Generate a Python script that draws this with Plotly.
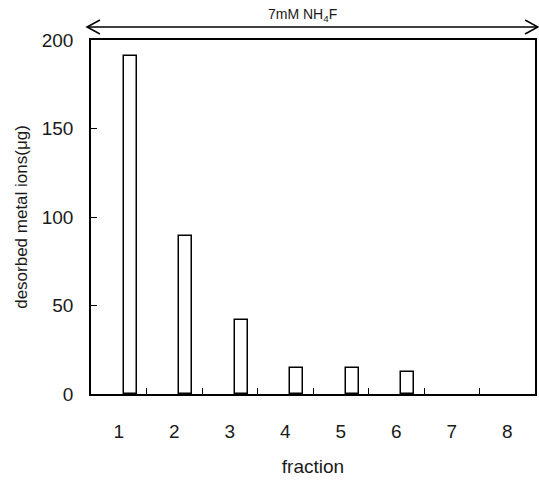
import plotly.graph_objects as go

fractions = [1, 2, 3, 4, 5, 6, 7, 8]
desorbed = [191, 89, 42, 14.5, 14.5, 12.5, 0, 0]
y_ticks = [0, 50, 100, 150, 200]

FONT = "Liberation Sans, Arial, sans-serif"
TXT = "#1a1a1a"

boundaries = [f + 0.5 for f in fractions[:-1]]

fig = go.Figure()
fig.add_trace(go.Bar(
    x=fractions, y=desorbed,
    width=0.23, offset=0.09,
    marker=dict(color="white",
                line=dict(color="black", width=[1.5 if v > 0 else 0 for v in desorbed])),
    showlegend=False,
))
# invisible trace so the boundary-tick axis is drawn
fig.add_trace(go.Scatter(x=boundaries, y=[0] * len(boundaries), xaxis="x2",
                         mode="markers", marker=dict(opacity=0), showlegend=False,
                         hoverinfo="skip"))

W, H = 446.0, 354.0
ay = (394 - 27) / H
xl = (87 - 91) / W
xr = (540 - 91) / W
hx = 13 / W
hy = 7 / H
line_style = dict(color="black", width=1.5)
shapes = [
    dict(type="line", xref="paper", yref="paper", x0=xl, x1=xr, y0=ay, y1=ay, line=line_style),
    dict(type="path", xref="paper", yref="paper",
         path=f"M {xl+hx},{ay+hy} L {xl},{ay} L {xl+hx},{ay-hy}", line=line_style),
    dict(type="path", xref="paper", yref="paper",
         path=f"M {xr-hx},{ay+hy} L {xr},{ay} L {xr-hx},{ay-hy}", line=line_style),
]

fig.update_layout(
    width=539, height=480,
    margin=dict(l=91, r=2, t=40, b=86),
    paper_bgcolor="white", plot_bgcolor="white",
    font=dict(family=FONT, color=TXT, size=19),
    bargap=0,
    shapes=shapes,
    annotations=[dict(
        text="7mM NH<sub>4</sub>F", xref="paper", yref="paper",
        x=(303 - 91) / W, y=(394 - 15) / H, showarrow=False,
        font=dict(size=14, family=FONT, color=TXT),
        xanchor="center", yanchor="middle",
    )],
    xaxis=dict(
        range=[0.5, 8.5], tickvals=fractions, ticktext=[str(f) for f in fractions],
        ticks="", showgrid=False, zeroline=False,
        showline=True, linecolor="black", linewidth=1.5, mirror=True,
        ticklabelstandoff=19,
        tickfont=dict(size=19),
        title=dict(text="fraction", font=dict(size=19), standoff=19),
    ),
    xaxis2=dict(
        range=[0.5, 8.5], overlaying="x", anchor="y", side="bottom",
        tickvals=boundaries, showticklabels=False,
        ticks="inside", ticklen=6, tickcolor="black", tickwidth=1,
        showgrid=False, zeroline=False, showline=False,
    ),
    yaxis=dict(
        range=[0, 200], tickvals=y_ticks,
        ticks="inside", ticklen=6, tickcolor="black", tickwidth=1,
        showgrid=False, zeroline=False,
        showline=True, linecolor="black", linewidth=1.5, mirror=True,
        ticklabelstandoff=12,
        tickfont=dict(size=19),
        title=dict(text="desorbed metal ions(μg)", font=dict(size=17), standoff=10),
    ),
)

fig.write_html("out.html")
